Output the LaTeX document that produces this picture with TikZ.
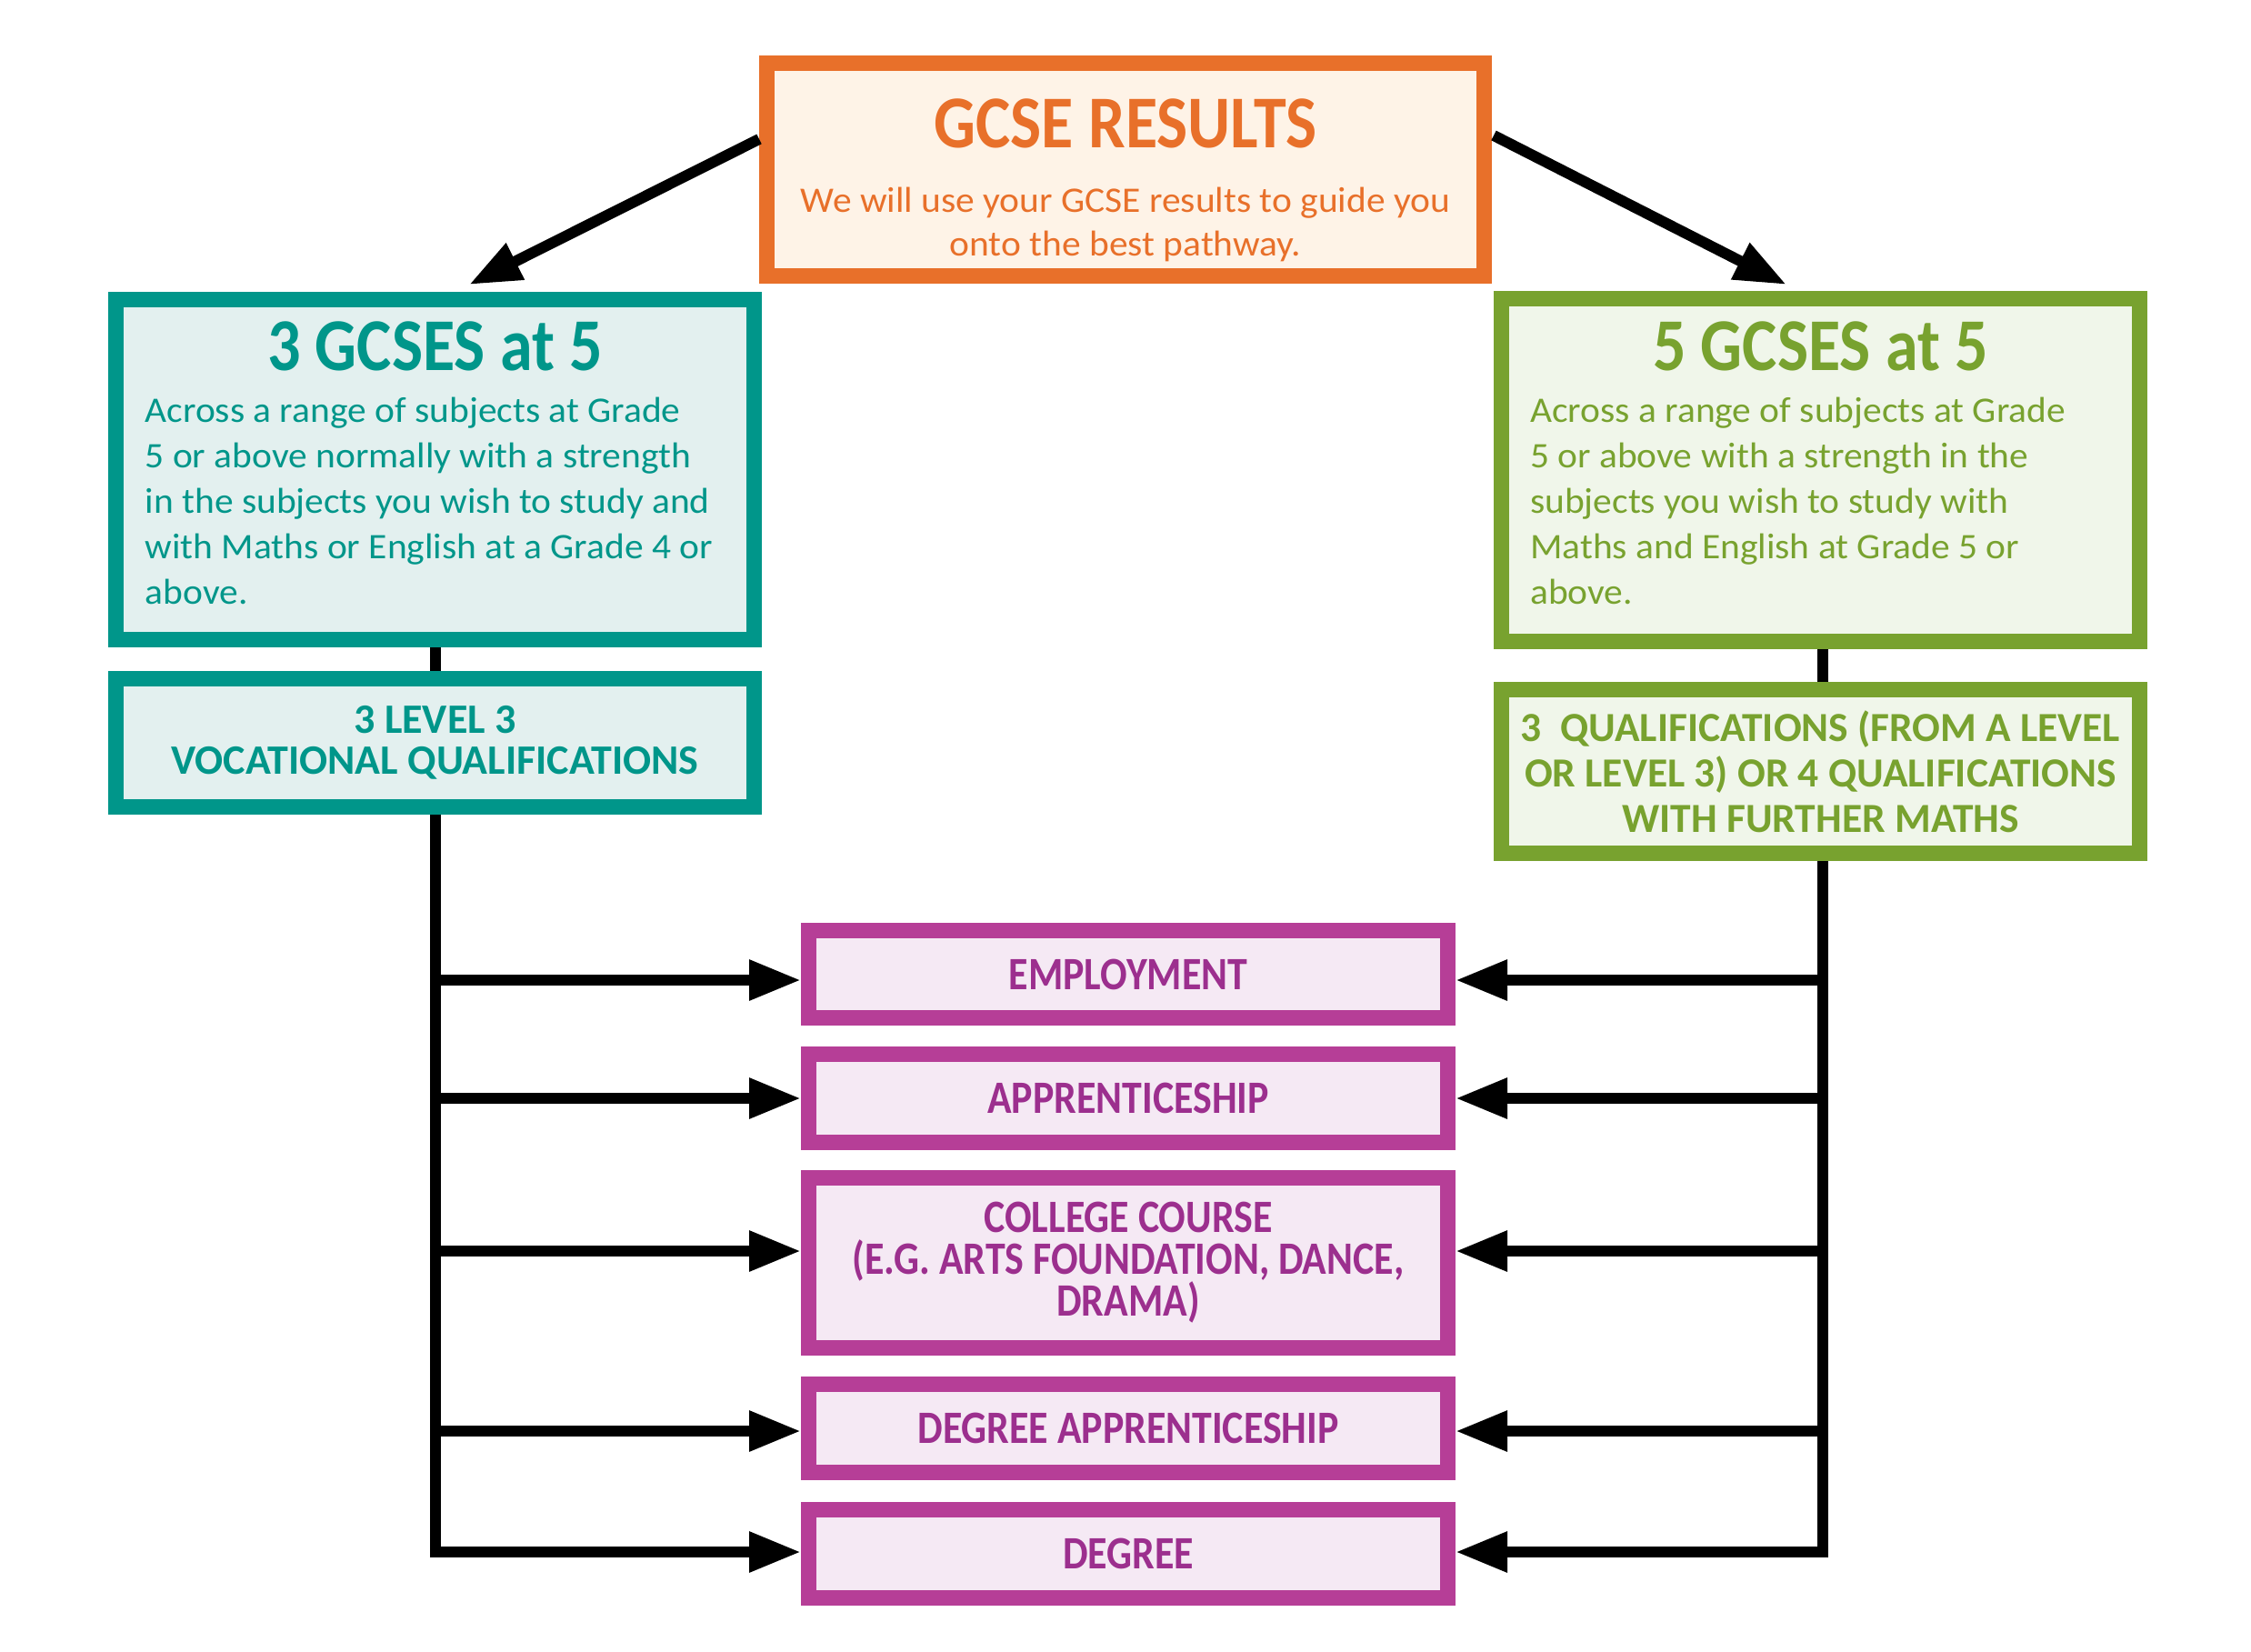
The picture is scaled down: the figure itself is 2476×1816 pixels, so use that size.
\documentclass[tikz,border=0pt]{standalone}
\usepackage{fontspec}
\setmainfont{Carlito}
\usetikzlibrary{arrows.meta}
\definecolor{orng}{HTML}{E8702A}
\definecolor{orngfill}{HTML}{FEF3E7}
\definecolor{teal}{HTML}{00968A}
\definecolor{tealfill}{HTML}{E3F0EF}
\definecolor{grn}{HTML}{78A22F}
\definecolor{grnfill}{HTML}{F0F6EA}
\definecolor{purp}{HTML}{B63E97}
\definecolor{purpfill}{HTML}{F5E9F4}
\definecolor{purptext}{HTML}{9C2F8E}
\begin{document}
\begin{tikzpicture}[x=1pt,y=-1pt,
  box/.style={draw, line width=17pt, inner sep=0pt},
  obox/.style={box, draw=orng, fill=orngfill},
  tbox/.style={box, draw=teal, fill=tealfill, minimum width=702pt},
  gbox/.style={box, draw=grn, fill=grnfill, minimum width=702pt},
  pbox/.style={box, draw=purp, fill=purpfill, minimum width=703pt, text=purptext, align=center,
     font=\bfseries\addfontfeatures{FakeStretch=0.86}\fontsize{51}{46}\selectfont},
  bigtitle/.style={anchor=base, inner sep=0pt, font=\bfseries\addfontfeatures{FakeStretch=0.88}\fontsize{82}{82}\selectfont},
  body/.style={anchor=base west, inner sep=0pt, align=left, font=\addfontfeatures{FakeStretch=1.05}\fontsize{39.5}{49.8}\selectfont},
  conn/.style={line width=12pt, black, line join=miter},
  arr/.style={conn, -{Triangle[length=57pt,width=42pt]}}
]
\useasboundingbox (0,0) rectangle (2476,1816);

% top box
\node[obox, minimum width=789pt, minimum height=234pt] (gcse) at (1238,186.5) {};
\node[bigtitle, text=orng] (gcsetitle) at (1238,162) {GCSE RESULTS};
\node[anchor=base, inner sep=0pt, align=center, text=orng, font=\addfontfeatures{FakeStretch=1.05}\fontsize{39.5}{48}\selectfont] (gcsesub) at (1238,281)
  {We will use your GCSE results to guide you\\onto the best pathway.};

% left column
\node[tbox, minimum height=374pt] (t1) at (478.5,516.5) {};
\node[bigtitle, text=teal] (t1title) at (478.5,407) {3 GCSES at 5};
\node[body, text=teal] (t1body) at (159.5,664)
  {Across a range of subjects at Grade\\5 or above normally with a strength\\in the subjects you wish to study and\\with Maths or English at a Grade 4 or\\above.};
\node[tbox, minimum height=141pt, text=teal, align=center, font=\bfseries\fontsize{46}{45}\selectfont] (t2) at (478.5,817)
  {3 LEVEL 3\\VOCATIONAL QUALIFICATIONS};

% right column
\node[gbox, minimum height=377pt] (g1) at (2002.5,517) {};
\node[bigtitle, text=grn] (g1title) at (2002.5,407) {5 GCSES at 5};
\node[body, text=grn] (g1body) at (1683,664)
  {Across a range of subjects at Grade\\5 or above with a strength in the\\subjects you wish to study with\\Maths and English at Grade 5 or\\above.};
\node[gbox, minimum height=180pt, text=grn, align=center, font=\bfseries\fontsize{45.5}{50}\selectfont] (g2) at (2002.5,848.5)
  {3~ QUALIFICATIONS (FROM A LEVEL\\OR LEVEL 3) OR 4 QUALIFICATIONS\\WITH FURTHER MATHS};

% outcome boxes
\node[pbox, minimum height=96pt] (emp) at (1241,1071.5) {EMPLOYMENT};
\node[pbox, minimum height=97pt] (app) at (1241,1208) {APPRENTICESHIP};
\node[pbox, minimum height=187pt] (col) at (1241,1389) {COLLEGE COURSE\\(E.G. ARTS FOUNDATION, DANCE,\\DRAMA)};
\node[pbox, minimum height=97pt] (dap) at (1241,1571) {DEGREE APPRENTICESHIP};
\node[pbox, minimum height=97pt] (deg) at (1241,1709) {DEGREE};

% diagonal arrows
\coordinate (ls) at (835,153);
\coordinate (lt) at (516,313);
\coordinate (rs) at (1643,149);
\coordinate (rt) at (1965,313);
\draw[arr] (ls) -- (lt);
\draw[arr] (rs) -- (rt);

% left trunk
\coordinate (la) at (478.5,1078);
\coordinate (lb) at (478.5,1208);
\coordinate (lc) at (478.5,1376);
\coordinate (ld) at (478.5,1574);
\coordinate (le) at (478.5,1707);
\draw[conn] (t1.south) -- (t2.north);
\draw[arr] (t2.south) -- (le) -- (deg.west |- le);
\draw[arr] (la) -- (emp.west |- la);
\draw[arr] (lb) -- (app.west |- lb);
\draw[arr] (lc) -- (col.west |- lc);
\draw[arr] (ld) -- (dap.west |- ld);

% right trunk
\coordinate (ra) at (2004.5,1078);
\coordinate (rb) at (2004.5,1208);
\coordinate (rc) at (2004.5,1376);
\coordinate (rd) at (2004.5,1574);
\coordinate (re) at (2004.5,1707);
\coordinate (rtop1) at (2004.5,714);
\coordinate (rtop2) at (2004.5,750);
\coordinate (rtop3) at (2004.5,947);
\draw[conn] (rtop1) -- (rtop2);
\draw[arr] (rtop3) -- (re) -- (deg.east |- re);
\draw[arr] (ra) -- (emp.east |- ra);
\draw[arr] (rb) -- (app.east |- rb);
\draw[arr] (rc) -- (col.east |- rc);
\draw[arr] (rd) -- (dap.east |- rd);
\end{tikzpicture}
\end{document}
